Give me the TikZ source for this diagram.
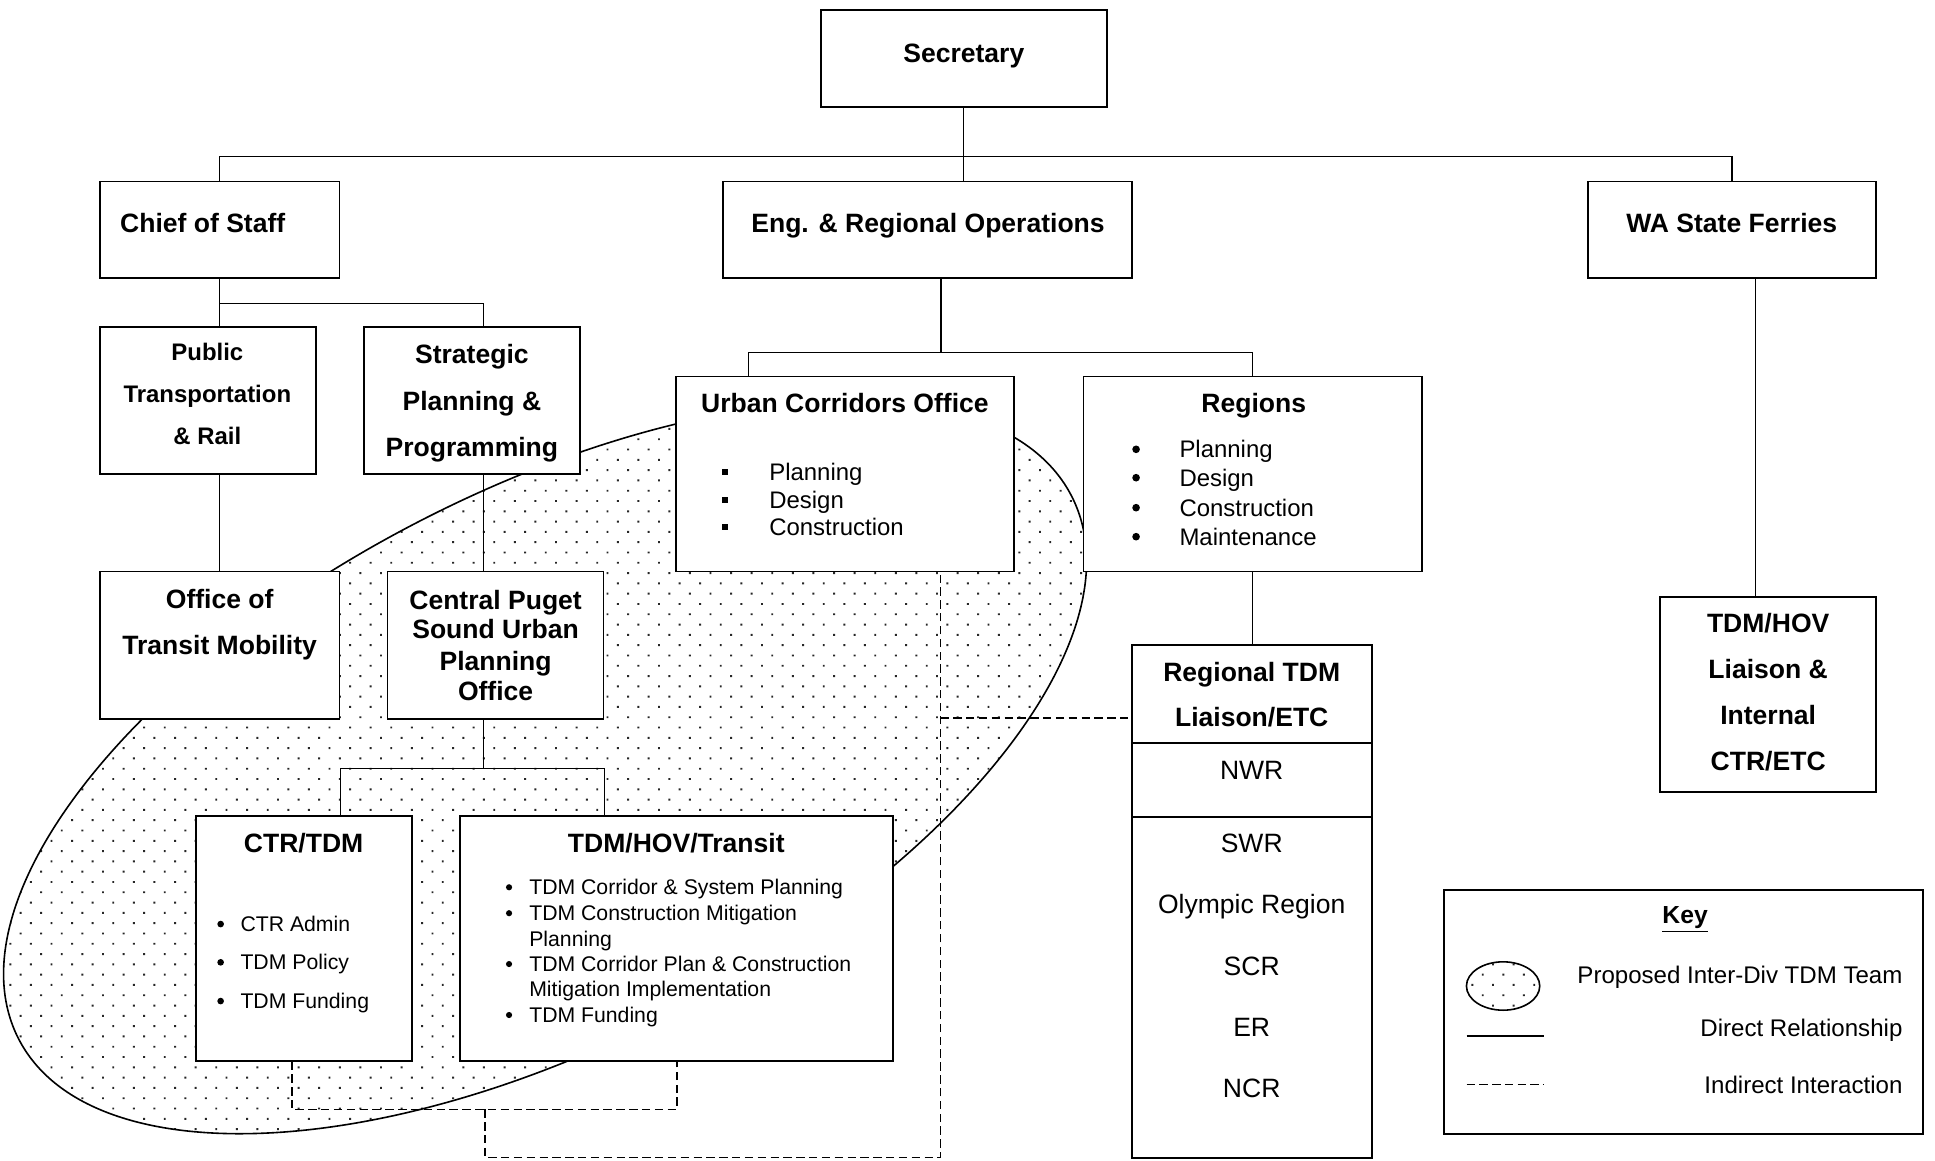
\documentclass[tikz,border=0pt]{standalone}
\usepackage{fontspec}
\setmainfont{Liberation Sans}
\usetikzlibrary{fit,backgrounds,patterns.meta,shapes.geometric}
\begin{document}
\begin{tikzpicture}[x=0.5pt, y=-0.5pt,
 box/.style={draw, line width=0.7pt, fill=white, inner sep=0pt, rectangle},
 conn/.style={line width=0.55pt},
 ind/.style={line width=0.7pt, dash pattern=on 3.4pt off 1.8pt},
 dotfill/.style={pattern={Dots[distance=5.9pt, angle=45, radius=0.55pt]}, pattern color=black!85},
 bt/.style={anchor=base, yshift=-3.9pt, inner sep=0pt, font=\bfseries\fontsize{10.75}{12}\selectfont},
 btl/.style={bt, anchor=base west},
 bs/.style={anchor=base, yshift=-3.5pt, inner sep=0pt, font=\bfseries\fontsize{9.7}{11}\selectfont},
 rt/.style={anchor=base, yshift=-3.9pt, inner sep=0pt, font=\fontsize{10.75}{12}\selectfont},
 mt/.style={anchor=base west, yshift=-3.5pt, inner sep=0pt, font=\fontsize{9.7}{11}\selectfont},
 st/.style={anchor=base west, yshift=-3.1pt, inner sep=0pt, font=\fontsize{8.6}{10}\selectfont},
 kt/.style={anchor=base east, yshift=-3.5pt, inner sep=0pt, font=\fontsize{9.75}{11}\selectfont},
 bul/.style={circle, fill, inner sep=0pt, minimum size=#1},
 sqb/.style={rectangle, fill, inner sep=0pt, minimum size=2.5pt}]

\useasboundingbox (0,0) rectangle (1568,940);

% ---------- boxes ----------
\node[box, fit={(665,8) (897,87)}] (sec) {};
\node[box, fit={(81,147) (275,225)}] (cos) {};
\node[box, fit={(586,147) (917,225)}] (eng) {};
\node[box, fit={(1287,147) (1520,225)}] (wsf) {};
\node[box, fit={(81,265) (256,384)}] (ptr) {};
\node[box, fit={(295,265) (470,384)}] (spp) {};
\node[box, fit={(81,463) (275,582.5)}] (otm) {};
\node[box, fit={(314,463) (489,582.5)}] (cps) {};
\node[box, fit={(159,661.5) (334,859.5)}] (ctr) {};
\node[box, fit={(373,661.5) (723.5,859.5)}] (hov) {};
\node[box, fit={(548,305) (821.5,463)}] (uco) {};
\node[box, fit={(878,305) (1152,463)}] (reg) {};
\node[box, fit={(917,522.5) (1111.5,938.5)}] (rtdm) {};
\node[box, fit={(1345,483.5) (1520,642)}] (fer) {};
\node[box, fit={(1170,721) (1558.5,919)}] (key) {};

% dividers in Regional TDM box
\coordinate (r1) at (917,602);
\coordinate (r2) at (917,661.8);
\draw[line width=0.7pt] (r1) -- (r1 -| rtdm.east);
\draw[line width=0.7pt] (r2) -- (r2 -| rtdm.east);

% ---------- texts ----------
\node[bt] (tsec) at (781,43) {Secretary};
\node[btl] (tcos) at (97,181) {Chief of Staff};
\node[bt] (teng) at (752,181) {Eng. \& Regional Operations};
\node[bt] (twsf) at (1403.3,181) {WA State Ferries};

\node[bs] (tptr1) at (168,285) {Public};
\node[bs] (tptr2) at (168,319.5) {Transportation};
\node[bs] (tptr3) at (168,353.3) {\& Rail};

\node[bt] (tspp1) at (382.4,287) {Strategic};
\node[bt] (tspp2) at (382.4,324.7) {Planning \&};
\node[bt] (tspp3) at (382.4,362) {Programming};

\node[bt] (totm1) at (178,485.4) {Office of};
\node[bt] (totm2) at (178,522.7) {Transit Mobility};

\node[bt] (tcps1) at (401.6,486.2) {Central Puget};
\node[bt] (tcps2) at (401.6,509.7) {Sound Urban};
\node[bt] (tcps3) at (401.6,535.4) {Planning};
\node[bt] (tcps4) at (401.6,559.7) {Office};

\node[bt] (tctr) at (246,683) {CTR/TDM};
\foreach \t/\yy [count=\i] in {CTR Admin/748.8, TDM Policy/779.8, TDM Funding/811.2}{
  \node[st] (ctrt\i) at (194.5,\yy) {\t};
  \node[bul=2.7pt] (ctrb\i) at (178.8,\yy) {};
}

\node[bt] (thov) at (548,683.4) {TDM/HOV/Transit};
\foreach \t/\yy [count=\i] in {TDM Corridor \& System Planning/719, TDM Construction Mitigation/740, Planning/760.4, TDM Corridor Plan \& Construction/781.2, Mitigation Implementation/800.9, TDM Funding/822.5}{
  \node[st] (hovt\i) at (428.5,\yy) {\t};
}
\foreach \yy [count=\i] in {719, 740, 781.2, 822.5}{
  \node[bul=2.5pt] (hovb\i) at (412.5,\yy) {};
}

\node[bt] (tuco) at (684.7,326.8) {Urban Corridors Office};
\foreach \t/\yy [count=\i] in {Planning/382.2, Design/405.2, Construction/426.8}{
  \node[mt] (ucot\i) at (623,\yy) {\t};
  \node[sqb] (ucob\i) at (587.5,\yy) {};
}

\node[bt] (treg) at (1016,326.8) {Regions};
\foreach \t/\yy [count=\i] in {Planning/364.1, Design/387.1, Construction/411.4, Maintenance/434.9}{
  \node[mt] (regt\i) at (955.4,\yy) {\t};
  \node[bul=3.1pt] (regb\i) at (920.6,\yy) {};
}

\node[bt] (trtdm1) at (1014.3,544.3) {Regional TDM};
\node[bt] (trtdm2) at (1014.3,581.3) {Liaison/ETC};
\foreach \t/\yy [count=\i] in {NWR/624, SWR/683, Olympic Region/732.8, SCR/782.8, ER/832, NCR/881.4}{
  \node[rt] (rtdmt\i) at (1014.3,\yy) {\t};
}

\node[bt] (tfer1) at (1432.8,505) {TDM/HOV};
\node[bt] (tfer2) at (1432.8,542) {Liaison \&};
\node[bt] (tfer3) at (1432.8,579.4) {Internal};
\node[bt] (tfer4) at (1432.8,616.4) {CTR/ETC};

% ---------- key ----------
\node[anchor=base, yshift=-3.6pt, inner sep=0pt, font=\bfseries\fontsize{10}{12}\selectfont] (tkey) at (1365.5,741) {\underline{Key}};
\node[draw, line width=0.65pt, ellipse, minimum width=29.7pt, minimum height=19.6pt, inner sep=0pt, dotfill] (kell) at (1218,799) {};
\coordinate (k1) at (1188.5,839.5);
\coordinate (k2) at (1251,839.5);
\draw[conn] (k1) -- (k2);
\coordinate (k3) at (1188.5,879);
\coordinate (k4) at (1250.6,879);
\draw[line width=0.6pt, dash pattern=on 3.4pt off 1.75pt] (k3) -- (k4);
\node[kt] (kt1) at (1542,790) {Proposed Inter-Div TDM Team};
\node[kt] (kt2) at (1542,833) {Direct Relationship};
\node[kt] (kt3) at (1542,879) {Indirect Interaction};

% ---------- background: team ellipse and connectors ----------
\begin{scope}[on background layer]
\draw[line width=0.65pt, dotfill, rotate around={27.3:(441.7,621.9)}] (441.7,621.9) ellipse [x radius=480, y radius=224];

\coordinate (j1) at (781,127);
\draw[conn] (sec.south) -- (sec.south |- eng.north);
\draw[conn] (cos.north) |- (j1) -| (wsf.north);

\coordinate (j2) at (392,246);
\draw[conn] (cos.south) -- (cos.south |- ptr.north);
\draw[conn] (cos.south |- j2) -- (j2) -- (j2 |- spp.north);
\draw[conn] (otm.north) -- (otm.north |- ptr.south);
\draw[conn] (j2 |- spp.south) -- (j2 |- cps.north);

\coordinate (j3) at (392,622.5);
\coordinate (j3l) at (275.7,622.5);
\coordinate (j3r) at (490,622.5);
\draw[conn] (j3 |- cps.south) -- (j3);
\draw[conn] (j3l |- ctr.north) -- (j3l) -- (j3r) -- (j3r |- hov.north);

\coordinate (j4) at (762.5,285.5);
\coordinate (j4l) at (606.5,285.5);
\draw[conn] (j4 |- eng.south) -- (j4);
\draw[conn] (j4l |- uco.north) -- (j4l) -| (reg.north);
\draw[conn] (reg.south) -- (reg.south |- rtdm.north);

\coordinate (j5) at (1422.7,300);
\draw[conn] (j5 |- wsf.south) -- (j5 |- fer.north);

\coordinate (d1) at (236.6,899);
\coordinate (d2) at (548.5,899);
\coordinate (d3) at (393,899);
\coordinate (d4) at (393,938);
\coordinate (d5) at (762,938);
\coordinate (d6) at (762,582);
\draw[ind] (d1 |- ctr.south) -- (d1) -- (d2) -- (d2 |- hov.south);
\draw[ind] (d3) -- (d4) -- (d5) -- (d5 |- uco.south);
\draw[ind] (d6) -- (d6 -| rtdm.west);
\end{scope}
\end{tikzpicture}
\end{document}
